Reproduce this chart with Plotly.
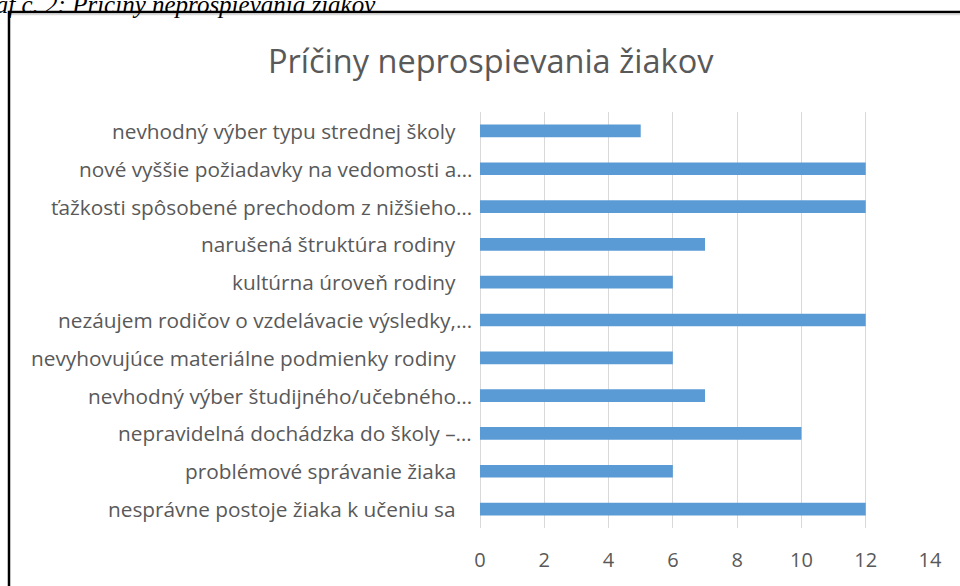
import plotly.graph_objects as go

categories = [
    "nevhodný výber typu strednej školy",
    "nové vyššie požiadavky na vedomosti a…",
    "ťažkosti spôsobené prechodom z nižšieho…",
    "narušená štruktúra rodiny",
    "kultúrna úroveň rodiny",
    "nezáujem rodičov o vzdelávacie výsledky,…",
    "nevyhovujúce materiálne podmienky rodiny",
    "nevhodný výber študijného/učebného…",
    "nepravidelná dochádzka do školy –…",
    "problémové správanie žiaka",
    "nesprávne postoje žiaka k učeniu sa",
]
values = [5, 12, 12, 7, 6, 12, 6, 7, 10, 6, 12]
tick_values = [0, 2, 4, 6, 8, 10, 12, 14]
chart_title = "Príčiny neprospievania žiakov"
caption = "Graf č. 2: Príčiny neprospievania žiakov"

W, H = 960, 586
L, R, T, B = 480, 30, 112, 58
pw, ph = W - L - R, H - T - B
FONT = "Open Sans"

def px_x(x):
    return (x - L) / pw

def px_y(y):
    return (H - B - y) / ph

fig = go.Figure(
    go.Bar(
        x=values,
        y=categories,
        orientation="h",
        marker=dict(color="#5B9BD5", line=dict(width=0)),
        width=0.335,
        hoverinfo="x+y",
    )
)

fig.update_yaxes(
    categoryorder="array",
    categoryarray=categories,
    autorange="reversed",
    showticklabels=False,
    showgrid=False,
    zeroline=False,
    showline=False,
    ticks="",
)
fig.update_xaxes(
    range=[0, 14],
    tickvals=tick_values,
    ticktext=[str(v) for v in tick_values],
    showgrid=True,
    gridcolor="#D9D9D9",
    gridwidth=1,
    zeroline=True,
    zerolinecolor="#D9D9D9",
    zerolinewidth=1,
    showline=False,
    ticks="",
    ticklabelstandoff=18,
    tickfont=dict(family=FONT, size=20, color="#595959"),
)

annotations = []
for c in categories:
    shift = -6 if c.endswith("…") else -22
    annotations.append(
        dict(
            x=0, xref="paper", y=c, yref="y",
            text=c, showarrow=False, xanchor="right", yanchor="middle",
            xshift=shift,
            font=dict(family=FONT, size=20.8, color="#595959"),
        )
    )

annotations.append(
    dict(
        x=px_x(491), xref="paper", y=px_y(60), yref="paper",
        text=chart_title, showarrow=False, xanchor="center", yanchor="middle",
        font=dict(family=FONT, size=32.5, color="#595959"),
    )
)
annotations.append(
    dict(
        x=px_x(378), xref="paper", y=px_y(4), yref="paper",
        text="<i>" + caption + "</i>", showarrow=False, xanchor="right", yanchor="middle",
        font=dict(family="Liberation Serif", size=25, color="#000000"),
    )
)

shapes = [
    dict(type="rect", xref="paper", yref="paper",
         x0=px_x(9), x1=px_x(1100), y0=px_y(700), y1=px_y(12),
         line=dict(color="#000000", width=2.5), layer="above"),
    dict(type="line", xref="paper", yref="paper",
         x0=px_x(11), x1=px_x(1100), y0=px_y(14.5), y1=px_y(14.5),
         line=dict(color="#D9D9D9", width=1.5)),
]

fig.update_layout(
    width=W, height=H,
    margin=dict(l=L, r=R, t=T, b=B),
    paper_bgcolor="#FFFFFF",
    plot_bgcolor="#FFFFFF",
    showlegend=False,
    annotations=annotations,
    shapes=shapes,
    bargap=0.66,
)

fig.write_html(
    "out.html",
    config={"displayModeBar": False},
    post_script="document.body.style.margin='0px';document.body.style.padding='0px';document.body.style.overflow='hidden';",
)
